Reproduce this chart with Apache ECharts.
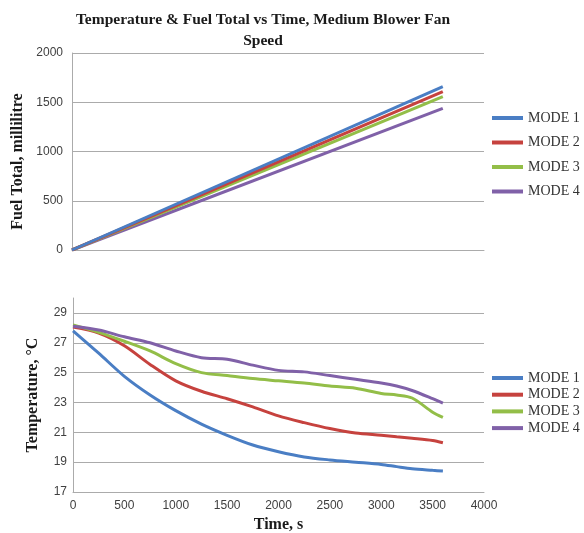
<!DOCTYPE html>
<html>
<head>
<meta charset="utf-8">
<script src="https://cdn.jsdelivr.net/npm/echarts@6/dist/echarts.min.js"></script>
<style>
  html, body { margin: 0; padding: 0; background: #fff; }
  #chart { width: 584px; height: 533px; }
</style>
</head>
<body>
<div id="chart"></div>
<script>
// 数据
const modes = ['MODE 1', 'MODE 2', 'MODE 3', 'MODE 4'];
const colors = ['#4A7EC4', '#C6423E', '#93BE48', '#8061A8'];

const fuelTime = [0, 3600];
const fuelMode1 = [0, 1658];
const fuelMode2 = [0, 1607];
const fuelMode3 = [0, 1556];
const fuelMode4 = [0, 1438];

const tempTime = [0, 250, 500, 750, 1000, 1250, 1500, 1750, 2000, 2250, 2500, 2750, 3000, 3150, 3300, 3500, 3600];
const tempMode1 = [27.8, 26.3, 24.75, 23.5, 22.45, 21.55, 20.8, 20.15, 19.7, 19.35, 19.15, 19.0, 18.85, 18.7, 18.56, 18.45, 18.4];
const tempMode2 = [28.05, 27.65, 26.8, 25.55, 24.45, 23.75, 23.25, 22.7, 22.1, 21.65, 21.25, 20.95, 20.8, 20.7, 20.6, 20.45, 20.3];
const tempMode3 = [28.2, 27.7, 27.1, 26.45, 25.6, 25.0, 24.8, 24.6, 24.45, 24.3, 24.1, 23.95, 23.6, 23.5, 23.3, 22.35, 22.0];
const tempMode4 = [28.1, 27.85, 27.4, 27.0, 26.45, 26.0, 25.9, 25.5, 25.15, 25.05, 24.8, 24.55, 24.3, 24.1, 23.8, 23.25, 22.95];

const tempTicks = [17, 19, 21, 23, 25, 27, 29];

const pair = (xs, ys) => xs.map((x, i) => [x, ys[i]]);

const chart = echarts.init(document.getElementById('chart'));

const gridColor = '#ababab';
const plain = v => String(v);
const labelStyle = { color: '#404040', fontSize: 12, fontFamily: 'Liberation Sans', formatter: plain };
const nameStyle = { color: '#1a1a1a', fontSize: 16, fontWeight: 'bold', fontFamily: 'Liberation Serif' };
const legendText = { color: '#333', fontSize: 14, fontFamily: 'Liberation Serif' };

const fuelSeries = [fuelMode1, fuelMode2, fuelMode3, fuelMode4].map((d, i) => ({
    name: modes[i],
    type: 'line',
    xAxisIndex: 0,
    yAxisIndex: 0,
    data: pair(fuelTime, d),
    showSymbol: false,
    lineStyle: { width: 3, color: colors[i] },
    itemStyle: { color: colors[i] },
    z: 10 - i
}));

const tempSeries = [tempMode1, tempMode2, tempMode3, tempMode4].map((d, i) => ({
    name: modes[i] + ' ',
    type: 'line',
    xAxisIndex: 1,
    yAxisIndex: 1,
    data: pair(tempTime, d),
    smooth: 0.3,
    showSymbol: false,
    lineStyle: { width: 3, color: colors[i] },
    itemStyle: { color: colors[i] }
}));

const option = {
    animation: false,
    backgroundColor: '#fff',
    color: colors,
    title: {
        text: 'Temperature & Fuel Total vs Time, Medium Blower Fan\nSpeed',
        left: 258,
        textAlign: 'center',
        top: 4,
        textStyle: {
            color: '#1a1a1a',
            fontSize: 15.5,
            fontWeight: 'bold',
            fontFamily: 'Liberation Serif',
            lineHeight: 21
        }
    },
    legend: [{
        data: modes,
        orient: 'vertical',
        left: 487,
        top: 106,
        itemWidth: 31,
        itemHeight: 4,
        itemGap: 10.5,
        icon: 'rect',
        textStyle: legendText
    }, {
        data: modes.map(m => m + ' '),
        orient: 'vertical',
        left: 487,
        top: 366,
        itemWidth: 31,
        itemHeight: 4,
        itemGap: 2.7,
        icon: 'rect',
        textStyle: legendText
    }],
    grid: [
        { left: 72, right: 100, top: 53, height: 197, outerBoundsMode: 'none' },
        { left: 73, right: 100, top: 298, height: 194, outerBoundsMode: 'none' }
    ],
    xAxis: [{
        gridIndex: 0,
        type: 'value',
        min: 0,
        max: 4000,
        interval: 500,
        axisLabel: { show: false },
        axisTick: { show: false },
        splitLine: { show: false },
        axisLine: { lineStyle: { color: gridColor } }
    }, {
        gridIndex: 1,
        type: 'value',
        min: 0,
        max: 4000,
        interval: 500,
        name: 'Time, s',
        nameLocation: 'middle',
        nameGap: 25,
        nameTextStyle: nameStyle,
        axisLabel: Object.assign({ margin: 8 }, labelStyle),
        axisTick: { show: false },
        splitLine: { show: false },
        axisLine: { lineStyle: { color: gridColor } }
    }],
    yAxis: [{
        gridIndex: 0,
        type: 'value',
        min: 0,
        max: 2000,
        interval: 500,
        name: 'Fuel Total, millilitre',
        nameLocation: 'middle',
        nameGap: 46,
        nameTextStyle: Object.assign({ padding: [0, 20, 0, 0] }, nameStyle),
        axisLabel: Object.assign({ margin: 9 }, labelStyle),
        axisTick: { show: false },
        axisLine: { show: true, lineStyle: { color: gridColor } },
        splitLine: { lineStyle: { color: gridColor, width: 1.2 } }
    }, {
        gridIndex: 1,
        type: 'value',
        min: 17,
        max: 30,
        name: 'Temperature, °C',
        nameLocation: 'middle',
        nameGap: 32,
        nameTextStyle: nameStyle,
        axisLabel: Object.assign({ margin: 6, customValues: tempTicks }, labelStyle),
        axisTick: { show: false, customValues: tempTicks },
        axisLine: { show: true, lineStyle: { color: gridColor } },
        splitLine: { lineStyle: { color: gridColor, width: 1.2 } }
    }],
    series: fuelSeries.concat(tempSeries)
};

chart.setOption(option);

window.addEventListener('resize', () => {
    chart.resize();
});
</script>
</body>
</html>
